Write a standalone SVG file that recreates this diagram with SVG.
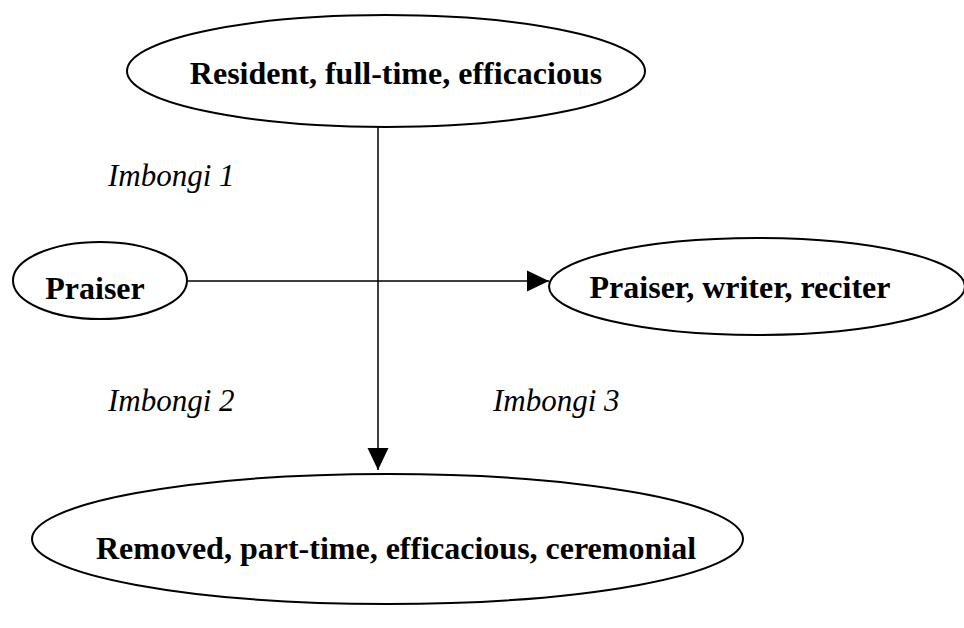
<svg xmlns="http://www.w3.org/2000/svg" width="964" height="628" viewBox="0 0 964 628">
<style>
.node ellipse{fill:#fff;stroke:#000;stroke-width:2}
.node text{font-family:"Liberation Serif","Times New Roman",serif;font-weight:bold;font-size:32px;fill:#000;text-anchor:middle}
.lbl{font-family:"Liberation Serif","Times New Roman",serif;font-style:italic;font-size:31px;fill:#000}
.conn line{stroke:#000;stroke-width:1.5}
</style>
<defs>
<marker id="arr" markerUnits="userSpaceOnUse" markerWidth="22" markerHeight="22" viewBox="0 0 21 20" refX="21" refY="10" orient="auto">
<path d="M0,0 L21,10 L0,20 Z" fill="#000"/>
</marker>
</defs>
<rect width="964" height="628" fill="#fff"/>
<g id="connectors" class="conn">
<line x1="378" y1="127" x2="378" y2="470" marker-end="url(#arr)"/>
<line x1="187" y1="281" x2="549" y2="281" marker-end="url(#arr)"/>
</g>
<g id="n-resident" class="node">
<ellipse cx="386" cy="71" rx="259" ry="56"/>
<text x="396" y="84">Resident, full-time, efficacious</text>
</g>
<g id="n-praiser" class="node">
<ellipse cx="100" cy="280.5" rx="87" ry="38.5"/>
<text x="95" y="299">Praiser</text>
</g>
<g id="n-pwr" class="node">
<ellipse cx="757" cy="286.5" rx="208" ry="48.5"/>
<text x="740" y="298">Praiser, writer, reciter</text>
</g>
<g id="n-removed" class="node">
<ellipse cx="387.5" cy="539" rx="355.5" ry="65"/>
<text x="396" y="559">Removed, part-time, efficacious, ceremonial</text>
</g>
<g id="labels">
<text class="lbl" x="108" y="186">Imbongi 1</text>
<text class="lbl" x="108" y="411">Imbongi 2</text>
<text class="lbl" x="493" y="411">Imbongi 3</text>
</g>
</svg>
